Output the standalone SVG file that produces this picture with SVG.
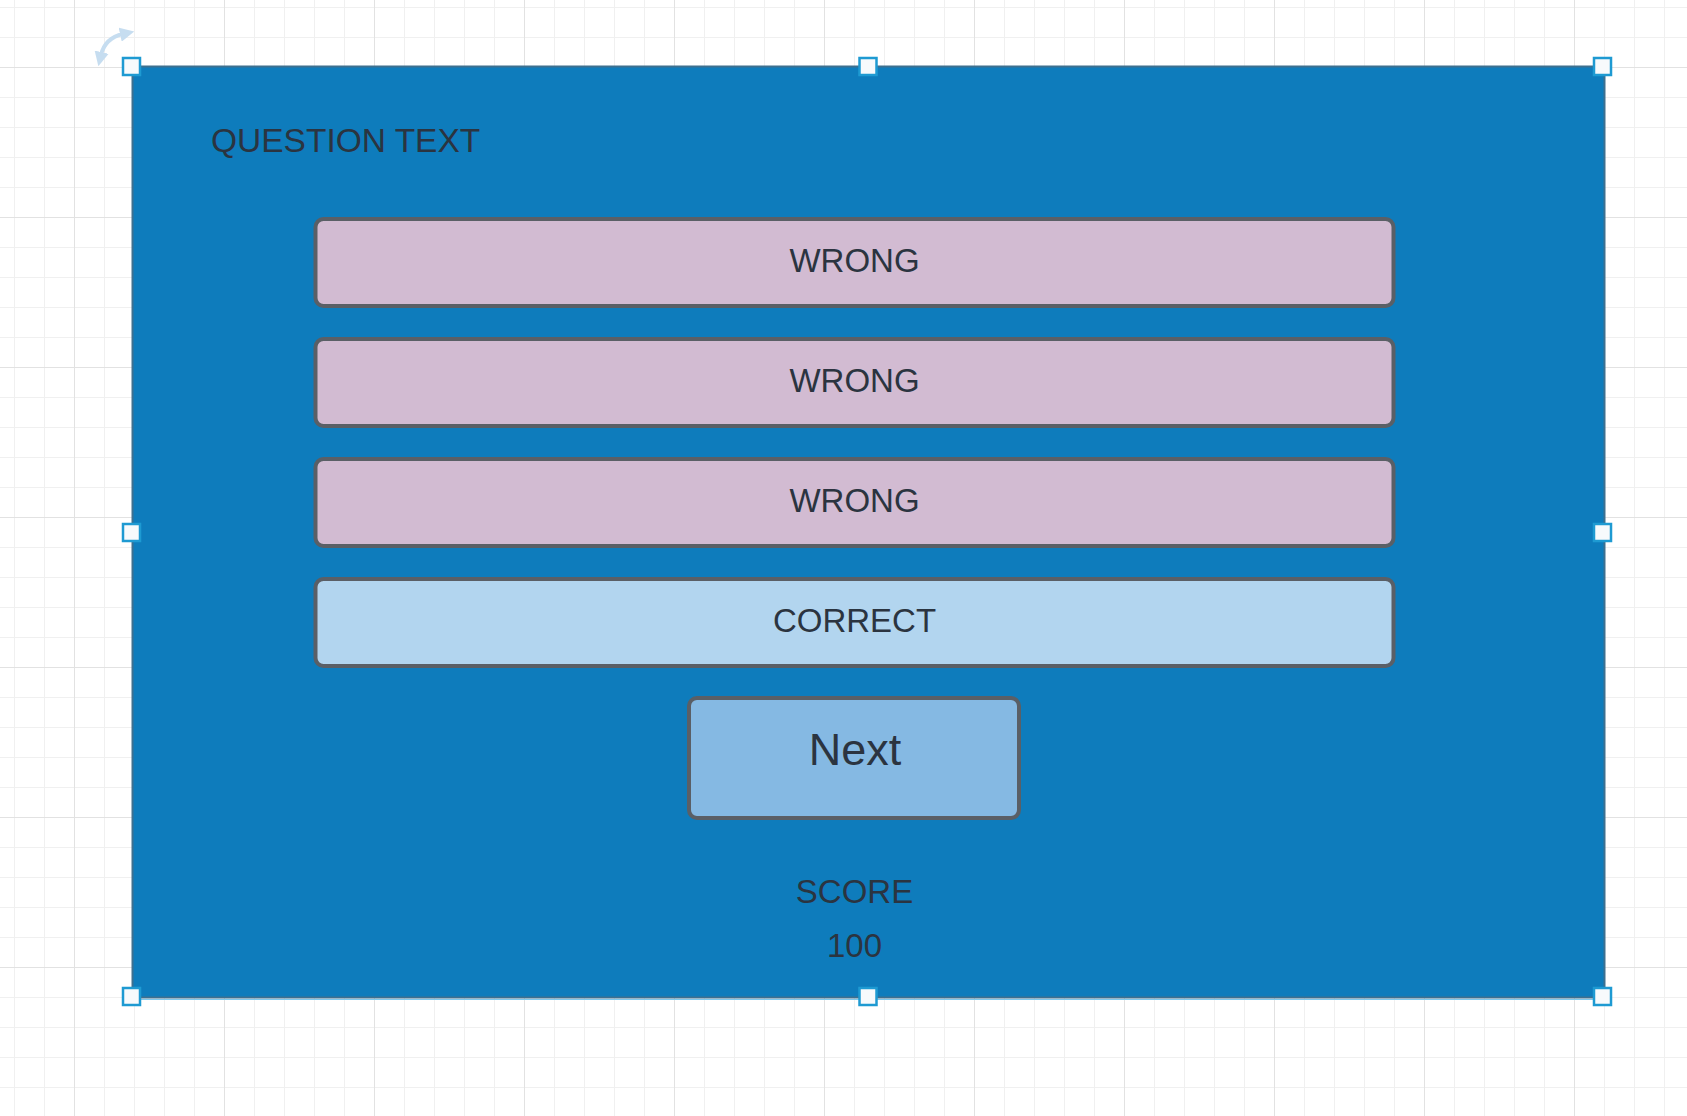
<svg xmlns="http://www.w3.org/2000/svg" width="1687" height="1116" viewBox="0 0 1687 1116">
<defs>
<pattern id="minor" patternUnits="userSpaceOnUse" x="14" y="7" width="30" height="30">
<path d="M0.5 0 V30 M0 0.5 H30" fill="none" stroke="#f0f0f0" stroke-width="1"/>
</pattern>
<pattern id="major" patternUnits="userSpaceOnUse" x="74" y="67" width="150" height="150">
<path d="M0.5 0 V150 M0 0.5 H150" fill="none" stroke="#e2e2e2" stroke-width="1"/>
</pattern>
<marker id="rot" viewBox="0 0 10 10" refX="2" refY="5" markerWidth="3.6" markerHeight="3.6" orient="auto-start-reverse">
<path d="M0 0 L10 5 L0 10 z" fill="#c6ddf0"/>
</marker>
</defs>
<style>
.opt{stroke:#5a5f66;stroke-width:4}
.wrong{fill:#d2bbd2}
.correct{fill:#b2d5ef}
.lbl{font-family:"Liberation Sans",Arial,sans-serif;fill:#2b3440;text-anchor:middle}
.handle{fill:#f7fafc;stroke:#1e9ad2;stroke-width:2.5}
</style>
<rect width="1687" height="1116" fill="#ffffff"/>
<rect width="1687" height="1116" fill="url(#minor)"/>
<rect width="1687" height="1116" fill="url(#major)"/>

<g id="screen">
<rect x="132.5" y="66.5" width="1472" height="931" fill="#0e7cbc" stroke="#3d7090" stroke-width="2"/>
<line x1="132" y1="999.5" x2="1605" y2="999.5" stroke="#7fc8ec" stroke-width="1"/>
<text class="lbl" x="211" y="152" font-size="33.5" style="text-anchor:start">QUESTION TEXT</text>
</g>

<g id="answer1">
<rect class="opt wrong" x="315.5" y="219" width="1078" height="87" rx="8"/>
<text class="lbl" x="854.5" y="271.5" font-size="33">WRONG</text>
</g>
<g id="answer2">
<rect class="opt wrong" x="315.5" y="339" width="1078" height="87" rx="8"/>
<text class="lbl" x="854.5" y="391.5" font-size="33">WRONG</text>
</g>
<g id="answer3">
<rect class="opt wrong" x="315.5" y="459" width="1078" height="87" rx="8"/>
<text class="lbl" x="854.5" y="511.5" font-size="33">WRONG</text>
</g>
<g id="answer4">
<rect class="opt correct" x="315.5" y="579" width="1078" height="87" rx="8"/>
<text class="lbl" x="854.5" y="631.5" font-size="33">CORRECT</text>
</g>
<g id="next">
<rect class="opt" x="689" y="698" width="330" height="120" rx="8" fill="#85b9e3"/>
<text class="lbl" x="855" y="765" font-size="45">Next</text>
</g>
<g id="score">
<text class="lbl" x="854.5" y="902.5" font-size="33">SCORE</text>
<text class="lbl" x="854.5" y="956.5" font-size="33">100</text>
</g>

<g id="connectors"></g>

<g id="selection">
<path d="M101 55 Q105 38 123 34" fill="none" stroke="#c6ddf0" stroke-width="4" marker-start="url(#rot)" marker-end="url(#rot)"/>
<rect class="handle" x="123" y="58" width="17" height="17"/>
<rect class="handle" x="859.5" y="58" width="17" height="17"/>
<rect class="handle" x="1594" y="58" width="17" height="17"/>
<rect class="handle" x="123" y="524" width="17" height="17"/>
<rect class="handle" x="1594" y="524" width="17" height="17"/>
<rect class="handle" x="123" y="988" width="17" height="17"/>
<rect class="handle" x="859.5" y="988" width="17" height="17"/>
<rect class="handle" x="1594" y="988" width="17" height="17"/>
</g>
</svg>
